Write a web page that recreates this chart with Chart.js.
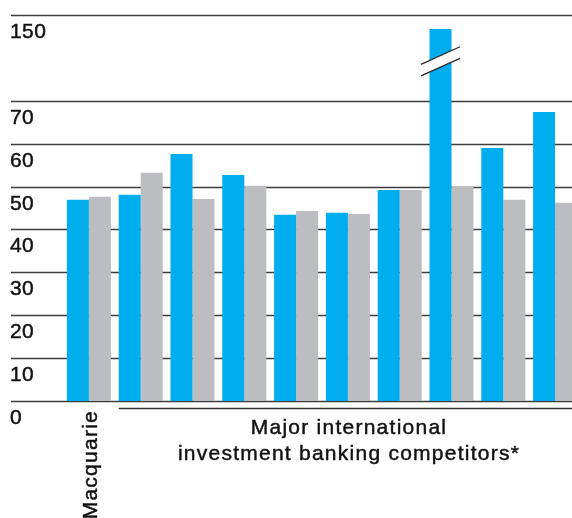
<!DOCTYPE html>
<html>
<head>
<meta charset="utf-8">
<script src="https://cdn.jsdelivr.net/npm/chart.js@4.4.1/dist/chart.umd.min.js"></script>
<style>
  html, body { margin: 0; padding: 0; background: #fff; overflow: hidden; }
  #wrap { width: 572px; height: 518px; overflow: hidden; }
  canvas { display: block; }
</style>
</head>
<body>
<div id="wrap"><canvas id="c" width="600" height="518"></canvas></div>
<script>
// Categories: Macquarie first, then nine major international competitors (unnamed)
const categories = ['Macquarie', 'C1', 'C2', 'C3', 'C4', 'C5', 'C6', 'C7', 'C8', 'C9'];
const blueValues = [46.9, 48.1, 57.6, 52.7, 43.4, 43.9, 49.2, 137, 59.0, 67.4];
const greyValues = [47.6, 53.2, 47.1, 50.2, 44.3, 43.6, 49.2, 50.1, 46.9, 46.2];
const tickValues = [0, 10, 20, 30, 40, 50, 60, 70, 150];
const groupLabel = ['Major international', 'investment banking competitors*'];

// Axis is broken above 70: the 70–150 range is squeezed into two grid steps
const BREAK_AT = 70;
const SQUEEZE = 4;
function toAxis(v) { return v <= BREAK_AT ? v : BREAK_AT + (v - BREAK_AT) / SQUEEZE; }

const BLUE = '#00AEEF';
const GREY = '#BCBDC0';
const INK = '#111';
const FONT = '"Liberation Sans", Arial, Helvetica, sans-serif';

// slightly heavier text than the regular face
function heavyText(ctx, str, x, y) {
  ctx.fillText(str, x, y);
  ctx.strokeText(str, x, y);
}

const decor = {
  id: 'decor',
  beforeDatasetsDraw(chart) {
    const ctx = chart.ctx, y = chart.scales.y;
    ctx.save();
    ctx.strokeStyle = '#3c3c3c';
    ctx.lineWidth = 1.4;
    tickValues.forEach(t => {
      const py = Math.round(y.getPixelForValue(toAxis(t))) + 0.5;
      ctx.beginPath();
      ctx.moveTo(11, py);
      ctx.lineTo(chart.width, py);
      ctx.stroke();
    });
    ctx.restore();
  },
  afterDatasetsDraw(chart) {
    const ctx = chart.ctx, y = chart.scales.y;
    ctx.save();
    // break symbol across the tallest bar
    const meta = chart.getDatasetMeta(0);
    let tallest = 0;
    blueValues.forEach((v, i) => { if (v > blueValues[tallest]) tallest = i; });
    const bar = meta.data[tallest];
    const cx = bar.x;
    const cy = y.getPixelForValue(79.2);
    const hw = 19.5, dy = 8.8, gap = 5.8;
    ctx.fillStyle = '#fff';
    ctx.beginPath();
    ctx.moveTo(cx - hw, cy - gap + dy);
    ctx.lineTo(cx + hw, cy - gap - dy);
    ctx.lineTo(cx + hw, cy + gap - dy);
    ctx.lineTo(cx - hw, cy + gap + dy);
    ctx.closePath();
    ctx.fill();
    ctx.strokeStyle = '#2a2a2a';
    ctx.lineWidth = 1.3;
    [-gap, gap].forEach(o => {
      ctx.beginPath();
      ctx.moveTo(cx - hw, cy + o + dy);
      ctx.lineTo(cx + hw, cy + o - dy);
      ctx.stroke();
    });

    // tick labels sit just under their grid lines
    ctx.fillStyle = INK;
    ctx.strokeStyle = INK;
    ctx.lineWidth = 0.45;
    ctx.font = '21px ' + FONT;
    ctx.textAlign = 'left';
    ctx.textBaseline = 'alphabetic';
    ctx.letterSpacing = '0.4px';
    tickValues.forEach(t => {
      const py = y.getPixelForValue(toAxis(t));
      heavyText(ctx, String(t), 10, py + 23);
    });

    // underline spanning the competitor groups
    const first = chart.getDatasetMeta(0).data[1];
    const baseY = y.getPixelForValue(0);
    ctx.strokeStyle = '#333';
    ctx.lineWidth = 1.4;
    ctx.beginPath();
    ctx.moveTo(first.x - first.width / 2, baseY + 7.5);
    ctx.lineTo(chart.width, baseY + 7.5);
    ctx.stroke();

    // group caption
    ctx.strokeStyle = INK;
    ctx.lineWidth = 0.45;
    ctx.font = '21px ' + FONT;
    ctx.letterSpacing = '1.25px';
    ctx.textAlign = 'center';
    heavyText(ctx, groupLabel[0], 349, baseY + 33);
    heavyText(ctx, groupLabel[1], 349, baseY + 59);

    // vertical label under the first group
    const m = chart.getDatasetMeta(0).data[0];
    ctx.translate(m.x + m.width / 2 + 8, baseY + 9);
    ctx.rotate(-Math.PI / 2);
    ctx.textAlign = 'right';
    heavyText(ctx, categories[0], 0, 0);
    ctx.restore();
  }
};

new Chart(document.getElementById('c'), {
  type: 'bar',
  data: {
    labels: categories,
    datasets: [
      { data: blueValues.map(toAxis), backgroundColor: BLUE, borderWidth: 0 },
      { data: greyValues.map(toAxis), backgroundColor: GREY, borderWidth: 0 }
    ]
  },
  options: {
    responsive: false,
    devicePixelRatio: 1,
    animation: false,
    layout: { padding: { left: 63, right: 19, top: 15, bottom: 117 } },
    datasets: { bar: { categoryPercentage: 0.85, barPercentage: 1.0 } },
    plugins: { legend: { display: false }, tooltip: { enabled: false } },
    scales: {
      x: { type: 'category', display: false, offset: true },
      y: { display: false, min: 0, max: 90 }
    }
  },
  plugins: [decor]
});
</script>
</body>
</html>
